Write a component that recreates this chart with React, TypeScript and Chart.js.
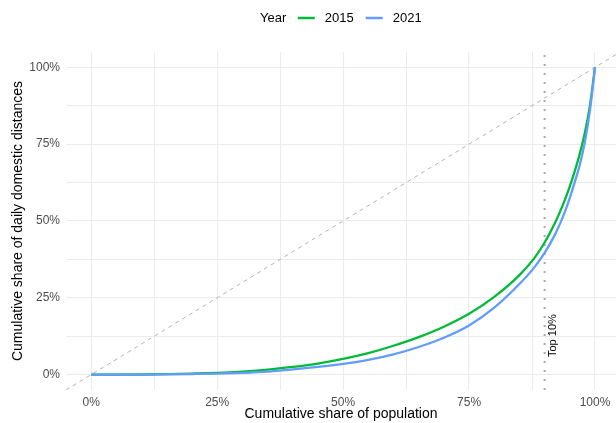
import React, { useEffect, useRef } from 'react';
import { Chart, registerables } from 'chart.js';

Chart.register(...registerables);

// ---- Data ----
const popShare = [0, 5, 10, 15, 20, 25, 30, 35, 40, 45, 50, 55, 60, 65, 70, 75, 80, 85, 88, 90, 92, 93, 94, 95, 96, 97, 98, 99, 100];
const share2015 = [0, 0, 0.05, 0.15, 0.35, 0.6, 1.0, 1.6, 2.5, 3.6, 5.1, 7.0, 9.4, 12.2, 15.6, 19.8, 25.3, 32.4, 38.0, 43.0, 49.2, 52.8, 56.8, 61.3, 66.3, 72.0, 78.8, 87.6, 100];
const share2021 = [0, 0, 0.02, 0.08, 0.2, 0.35, 0.6, 1.0, 1.7, 2.5, 3.5, 4.8, 6.6, 9.0, 12.0, 16.0, 21.8, 29.5, 35.0, 39.6, 45.4, 48.9, 52.9, 57.5, 62.8, 68.4, 75.8, 86.0, 100];
const seriesNames = ['2015', '2021'];
const seriesColors = ['#00BA38', '#619CFF'];
const legendTitle = 'Year';
const majorTicks = [0, 25, 50, 75, 100];
const minorTicks = [12.5, 37.5, 62.5, 87.5];
const equalityLine = [-5, 110];
const topThreshold = 90;
const topLabel = 'Top 10%';
const xTitle = 'Cumulative share of population';
const yTitle = 'Cumulative share of daily domestic distances';

const FONT = '"Liberation Sans", Arial, Helvetica, sans-serif';

const allTicks = [...majorTicks, ...minorTicks].sort((a, b) => a - b);
const isMajor = (v: number) => majorTicks.includes(v);

const overlayPlugin = {
  id: 'overlay',
  afterDatasetsDraw(chart: any) {
    const { ctx, scales } = chart;
    const x = scales.x;
    const y = scales.y;
    ctx.save();
    ctx.translate(x.getPixelForValue(91.7), y.getPixelForValue(12.7));
    ctx.rotate(-Math.PI / 2);
    ctx.font = `11px ${FONT}`;
    ctx.fillStyle = '#000000';
    ctx.textAlign = 'center';
    ctx.textBaseline = 'middle';
    ctx.fillText(topLabel, 0, 0);
    ctx.restore();
  },
  afterDraw(chart: any) {
    const { ctx } = chart;
    ctx.save();
    ctx.font = `13px ${FONT}`;
    ctx.fillStyle = '#000000';
    ctx.textBaseline = 'middle';
    ctx.textAlign = 'left';
    const yc = 18;
    let cx = 260;
    ctx.fillText(legendTitle, cx, yc);
    cx += ctx.measureText(legendTitle).width + 11.5;
    seriesNames.forEach((name, i) => {
      ctx.strokeStyle = seriesColors[i];
      ctx.lineWidth = 2.5;
      ctx.beginPath();
      ctx.moveTo(cx, yc);
      ctx.lineTo(cx + 17, yc);
      ctx.stroke();
      cx += 27;
      ctx.fillText(name, cx, yc);
      cx += ctx.measureText(name).width + 12;
    });
    ctx.restore();
  },
};

export default function App() {
  const ref = useRef<HTMLCanvasElement>(null);

  useEffect(() => {
    if (!ref.current) return;
    const gridColor = '#EBEBEB';
    const gridWidth = (c: any) => (isMajor(c.tick?.value) ? 1.1 : 1);
    const chart = new Chart(ref.current, {
      type: 'line',
      data: {
        datasets: [
          {
            label: 'equality',
            data: equalityLine.map((v) => ({ x: v, y: v })),
            borderColor: '#B3B3B3',
            borderWidth: 1,
            borderDash: [4, 4],
            pointRadius: 0,
            order: 3,
          },
          {
            label: 'threshold',
            data: [{ x: topThreshold, y: -5 }, { x: topThreshold, y: 106 }],
            borderColor: '#A8A8A8',
            borderWidth: 2,
            borderDash: [2, 7],
            pointRadius: 0,
            order: 2,
          },
          {
            label: seriesNames[0],
            data: popShare.map((p, i) => ({ x: p, y: share2015[i] })),
            borderColor: seriesColors[0],
            borderWidth: 2.3,
            pointRadius: 0,
            cubicInterpolationMode: 'monotone',
            order: 1,
          },
          {
            label: seriesNames[1],
            data: popShare.map((p, i) => ({ x: p, y: share2021[i] })),
            borderColor: seriesColors[1],
            borderWidth: 2.3,
            pointRadius: 0,
            cubicInterpolationMode: 'monotone',
            order: 0,
          },
        ],
      },
      options: {
        responsive: false,
        animation: false,
        parsing: false as any,
        layout: { padding: { top: 52, right: 0, left: 0, bottom: 0 } },
        plugins: { legend: { display: false }, tooltip: { enabled: false } },
        scales: {
          x: {
            type: 'linear',
            min: -5,
            max: 104.17,
            border: { display: false },
            grid: { color: gridColor, lineWidth: gridWidth, drawTicks: false },
            ticks: {
              autoSkip: false,
              maxRotation: 0,
              padding: 5,
              color: '#4D4D4D',
              font: { size: 12, family: FONT },
              callback: (v: any) => (isMajor(Number(v)) ? `${v}%` : ''),
            },
            afterBuildTicks: (s: any) => {
              s.ticks = allTicks.map((v) => ({ value: v }));
            },
            afterFit: (s: any) => {
              s.height = 33;
            },
            title: {
              display: true,
              text: xTitle,
              color: '#000000',
              font: { size: 14, family: FONT },
              padding: { top: -2, bottom: 0 },
            },
          },
          y: {
            type: 'linear',
            min: -5,
            max: 105,
            border: { display: false },
            grid: { color: gridColor, lineWidth: gridWidth, drawTicks: false },
            ticks: {
              autoSkip: false,
              padding: 6,
              color: '#4D4D4D',
              font: { size: 12, family: FONT },
              callback: (v: any) => (isMajor(Number(v)) ? `${v}%` : ''),
            },
            afterBuildTicks: (s: any) => {
              s.ticks = allTicks.map((v) => ({ value: v }));
            },
            afterFit: (s: any) => {
              s.width = 66;
            },
            title: {
              display: true,
              text: yTitle,
              color: '#000000',
              font: { size: 14, family: FONT },
              padding: { top: 10, bottom: 0 },
            },
          },
        },
      },
      plugins: [overlayPlugin],
    } as any);
    return () => chart.destroy();
  }, []);

  return (
    <div style={{ position: 'fixed', left: 0, top: 0, width: 616, height: 423, background: '#ffffff' }}>
      <canvas ref={ref} width={616} height={423} style={{ width: 616, height: 423, display: 'block' }} />
    </div>
  );
}
